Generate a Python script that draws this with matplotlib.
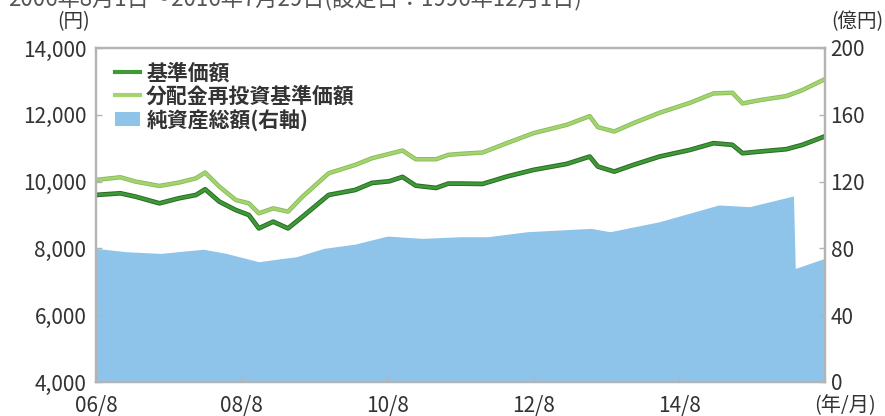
import pandas as pd
import matplotlib.pyplot as plt
import matplotlib.patheffects as pe
from matplotlib.patches import Patch
from matplotlib.lines import Line2D

plt.rcParams['font.family'] = ['Noto Sans CJK JP', 'DejaVu Sans']

# 基準価額 / 分配金再投資基準価額 (円)
line_dates = ["2006-08-01", "2006-12-01", "2007-02-15", "2007-06-15", "2007-09-20",
              "2007-12-15", "2008-01-30", "2008-04-10", "2008-07-01", "2008-09-05",
              "2008-10-25", "2009-01-05", "2009-03-20", "2009-06-01", "2009-10-10",
              "2010-02-20", "2010-05-15", "2010-08-10", "2010-10-15", "2010-12-20",
              "2011-04-01", "2011-06-01", "2011-08-01", "2011-11-20", "2012-03-20",
              "2012-08-01", "2013-01-15", "2013-05-10", "2013-06-20", "2013-09-10",
              "2013-12-15", "2014-04-25", "2014-09-25", "2015-01-20", "2015-04-25",
              "2015-06-15", "2015-09-10", "2016-01-20", "2016-04-10", "2016-07-29"]
nav = [9600, 9650, 9550, 9350, 9500, 9600, 9770, 9400, 9150, 9000,
       8600, 8800, 8600, 8950, 9600, 9750, 9960, 10010, 10140, 9880,
       9810, 9940, 9940, 9930, 10150, 10350, 10530, 10750, 10450, 10300,
       10500, 10750, 10950, 11150, 11100, 10850, 10900, 10970, 11100, 11350]
nav_reinvest = [10050, 10130, 10000, 9870, 9970, 10100, 10270, 9850, 9450, 9350,
                9050, 9200, 9100, 9550, 10250, 10500, 10700, 10830, 10930, 10670,
                10670, 10800, 10830, 10870, 11150, 11450, 11700, 11960, 11630, 11500,
                11750, 12060, 12360, 12640, 12660, 12340, 12440, 12560, 12740, 13060]

# 純資産総額 (億円)
asset_dates = ["2006-08-01", "2007-01-01", "2007-06-20", "2008-01-20", "2008-05-15",
               "2008-10-25", "2009-02-20", "2009-05-01", "2009-09-15", "2010-02-20",
               "2010-08-01", "2011-01-20", "2011-08-01", "2011-12-15", "2012-07-01",
               "2013-05-15", "2013-08-20", "2014-04-25", "2015-02-15", "2015-07-20",
               "2016-02-25", "2016-03-05", "2016-07-29"]
net_assets = [80, 78, 77, 79.5, 77, 72, 74, 75, 80, 82.6,
              87.4, 86, 87, 87, 90, 92, 90, 96, 106, 105,
              111.4, 68, 74]

xtick_dates = ["2006-08-01", "2008-08-01", "2010-08-01", "2012-08-01", "2014-08-01"]
xtick_labels = ["06/8", "08/8", "10/8", "12/8", "14/8"]

text_color = "#333333"
spine_color = "#b4b4b4"

fig = plt.figure(figsize=(8.85, 4.16), dpi=100)
ax = fig.add_axes([96/885, 34/416, 729/885, 334/416])
ax2 = ax.twinx()

# 純資産総額 (右軸) は塗りつぶし
ax2.fill_between(pd.to_datetime(asset_dates), net_assets, 0, color="#8ec4ea", lw=0)
ax2.set_ylim(0, 200)
ax2.set_yticks(range(0, 201, 40))

# 折れ線は塗りの上に描く
ax.set_zorder(ax2.get_zorder() + 1)
ax.patch.set_visible(False)

x = pd.to_datetime(line_dates)
ax.plot(x, nav_reinvest, color="#a4d46e", lw=2.0,
        path_effects=[pe.Stroke(linewidth=3.2, foreground="#86b95a"), pe.Normal()])
ax.plot(x, nav, color="#3d9a35", lw=2.0,
        path_effects=[pe.Stroke(linewidth=3.4, foreground="#2a6a28"), pe.Normal()])

ax.set_ylim(4000, 14000)
ax.set_yticks(range(4000, 14001, 2000))
ax.set_yticklabels([f"{v:,}" for v in range(4000, 14001, 2000)])
ax.set_xlim(pd.Timestamp("2006-08-01"), pd.Timestamp("2016-08-01"))
ax.set_xticks(pd.to_datetime(xtick_dates))
ax.set_xticklabels(xtick_labels)

for a in (ax, ax2):
    for s in a.spines.values():
        s.set_color(spine_color)
        s.set_linewidth(1.6)
    a.tick_params(direction="in", length=4, width=1, color=spine_color,
                  labelsize=15, labelcolor=text_color)
ax.tick_params(axis="y", pad=7)
ax.tick_params(axis="x", pad=9)
ax2.tick_params(axis="y", pad=4)

# 凡例
handles = [Line2D([], [], color="#3d9a35", lw=3),
           Line2D([], [], color="#a4d46e", lw=3),
           Patch(facecolor="#8ec4ea", edgecolor="none")]
labels = ["基準価額", "分配金再投資基準価額", "純資産総額(右軸)"]
leg = ax.legend(handles, labels, loc="upper left", bbox_to_anchor=(0.006, 1.0),
                frameon=False, fontsize=15, handlelength=1.2, handletextpad=0.3,
                labelspacing=0.1, borderaxespad=0.3)
for t in leg.get_texts():
    t.set_color(text_color)
    t.set_fontweight("bold")

# 単位
fig.text(74/885, 1 - 22/416, "(円)", ha="center", va="center", fontsize=14, color=text_color)
fig.text(857/885, 1 - 22/416, "(億円)", ha="center", va="center", fontsize=14, color=text_color)
fig.text(845/885, 1 - 406/416, "(年/月)", ha="center", va="center", fontsize=14.5, color=text_color)
fig.text(8/885, 1 - 5/416, "2006年8月1日～2016年7月29日(設定日：1996年12月1日)",
         ha="left", va="baseline", fontsize=16, color="#555555")

plt.savefig("out.png", dpi=100)
